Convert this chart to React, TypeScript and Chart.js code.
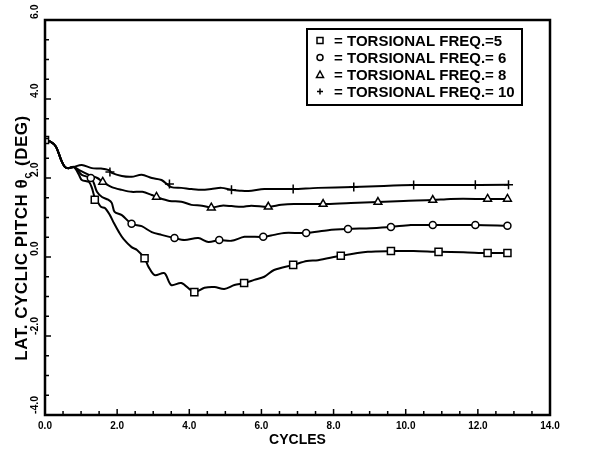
import React, { useEffect, useRef } from 'react';
import { Chart, registerables } from 'chart.js';

Chart.register(...registerables);

const FONT = '"Liberation Sans", Arial, Helvetica, sans-serif';

// Shared start of all four curves (cycles, deg)
const START_X = [0, 0.15, 0.3, 0.45, 0.55, 0.65, 0.8];
const START_Y = [2.96, 2.92, 2.8, 2.45, 2.28, 2.25, 2.28];

// Torsional freq = 5 (squares)
const F5_X = [0.94, 1.02, 1.22, 1.3, 1.38, 1.46, 1.55, 1.66, 1.8, 1.91, 2.05, 2.18, 2.4, 2.55, 2.76, 2.87, 3.04, 3.31, 3.5, 3.78, 4.14, 4.42, 4.7, 4.97, 5.25, 5.52, 5.8, 6.08, 6.35, 6.88, 7.26, 7.57, 8.2, 8.95, 9.59, 10.22, 10.91, 11.6, 12.27, 12.82];
const F5_Y = [2.08, 1.95, 1.9, 1.75, 1.5, 1.39, 1.27, 1.24, 1.06, 0.86, 0.63, 0.45, 0.25, 0.18, -0.03, -0.25, -0.46, -0.41, -0.71, -0.66, -0.89, -0.78, -0.76, -0.81, -0.71, -0.66, -0.58, -0.5, -0.33, -0.2, -0.1, -0.08, 0.03, 0.13, 0.15, 0.15, 0.13, 0.12, 0.1, 0.1];
const F5_MARK_X = [0, 1.38, 2.76, 4.14, 5.52, 6.88, 8.2, 9.59, 10.91, 12.27, 12.82];
const F5_MARK_Y = [2.96, 1.45, -0.03, -0.89, -0.66, -0.2, 0.03, 0.15, 0.13, 0.1, 0.1];

// Torsional freq = 6 (circles)
const F6_X = [0.9, 1.02, 1.27, 1.35, 1.44, 1.58, 1.75, 1.85, 1.93, 2.13, 2.4, 2.68, 2.96, 3.23, 3.59, 3.87, 4.25, 4.53, 4.83, 5.17, 5.53, 6.05, 6.35, 6.63, 7.24, 7.85, 8.4, 9.03, 9.59, 10.14, 10.75, 11.24, 11.93, 12.82];
const F6_Y = [2.2, 2.08, 2.0, 1.88, 1.65, 1.52, 1.45, 1.37, 1.14, 1.06, 0.84, 0.78, 0.63, 0.56, 0.48, 0.43, 0.48, 0.38, 0.43, 0.41, 0.51, 0.51, 0.56, 0.61, 0.61, 0.68, 0.71, 0.73, 0.76, 0.81, 0.81, 0.81, 0.81, 0.79];
const F6_MARK_X = [1.27, 2.4, 3.59, 4.83, 6.05, 7.24, 8.4, 9.59, 10.75, 11.93, 12.82];
const F6_MARK_Y = [2.0, 0.84, 0.48, 0.43, 0.51, 0.61, 0.71, 0.76, 0.81, 0.81, 0.79];

// Torsional freq = 8 (triangles)
const F8_X = [0.95, 1.22, 1.45, 1.6, 1.85, 2.13, 2.4, 2.7, 2.96, 3.09, 3.45, 3.78, 4.06, 4.35, 4.61, 4.9, 5.17, 5.45, 5.72, 6.19, 6.55, 6.9, 7.71, 8.48, 9.23, 9.94, 10.75, 11.24, 12.27, 12.82];
const F8_Y = [2.2, 2.08, 2.0, 1.9, 1.77, 1.7, 1.65, 1.65, 1.57, 1.52, 1.42, 1.4, 1.32, 1.3, 1.25, 1.3, 1.29, 1.27, 1.3, 1.27, 1.32, 1.34, 1.34, 1.37, 1.39, 1.42, 1.44, 1.47, 1.47, 1.47];
const F8_MARK_X = [1.6, 3.09, 4.61, 6.19, 7.71, 9.23, 10.75, 12.27, 12.82];
const F8_MARK_Y = [1.9, 1.52, 1.25, 1.27, 1.34, 1.39, 1.44, 1.47, 1.47];

// Torsional freq = 10 (plus)
const F10_X = [1.02, 1.3, 1.55, 1.77, 1.85, 2.13, 2.4, 2.68, 2.96, 3.23, 3.5, 3.78, 4.06, 4.35, 4.61, 4.89, 5.17, 5.4, 5.64, 6.08, 6.55, 6.88, 7.57, 8.54, 9.39, 10.22, 11.24, 12.85];
const F10_Y = [2.33, 2.25, 2.24, 2.2, 2.13, 2.05, 2.03, 2.08, 2.0, 1.95, 1.77, 1.75, 1.72, 1.7, 1.72, 1.75, 1.7, 1.68, 1.67, 1.72, 1.72, 1.72, 1.75, 1.77, 1.8, 1.82, 1.82, 1.83];
const F10_MARK_X = [1.8, 3.45, 5.17, 6.88, 8.56, 10.22, 11.93, 12.85];
const F10_MARK_Y = [2.15, 1.85, 1.7, 1.72, 1.77, 1.82, 1.83, 1.83];

const LEGEND_LABELS = ['TORSIONAL FREQ.=5', 'TORSIONAL FREQ.= 6', 'TORSIONAL FREQ.= 8', 'TORSIONAL FREQ.= 10'];
const MARKER_STYLES = ['rect', 'circle', 'triangle', 'cross'];

const X_TITLE = 'CYCLES';
const Y_TITLE_MAIN = 'LAT. CYCLIC PITCH \u03B8';
const Y_TITLE_SUB = 'c';
const Y_TITLE_END = ' (DEG)';

const tickLabel = (v: number) => (Math.abs(v % 2) < 1e-6 ? v.toFixed(1) : '');
const isMajor = (v: number) => Math.abs(v % 2) < 1e-6;

const pts = (xs: number[], ys: number[]) => xs.map((x, i) => ({ x, y: ys[i] }));

function drawMarker(ctx: CanvasRenderingContext2D, style: string, x: number, y: number, r: number) {
  ctx.beginPath();
  if (style === 'rect') {
    ctx.rect(x - r, y - r, 2 * r, 2 * r);
  } else if (style === 'circle') {
    ctx.arc(x, y, r, 0, Math.PI * 2);
  } else if (style === 'triangle') {
    ctx.moveTo(x, y - r - 0.5);
    ctx.lineTo(x + r + 0.5, y + r);
    ctx.lineTo(x - r - 0.5, y + r);
    ctx.closePath();
  } else {
    ctx.moveTo(x - r, y);
    ctx.lineTo(x + r, y);
    ctx.moveTo(x, y - r);
    ctx.lineTo(x, y + r);
  }
  ctx.stroke();
}

const decorPlugin = {
  id: 'decor',
  afterDraw(chart: any) {
    const { ctx, chartArea: a, scales } = chart;
    const xs = scales.x;
    const ys = scales.y;
    ctx.save();
    ctx.strokeStyle = '#000';
    ctx.fillStyle = '#000';

    // frame
    ctx.lineWidth = 2.5;
    ctx.strokeRect(a.left, a.top, a.right - a.left, a.bottom - a.top);

    // inward ticks
    ctx.lineWidth = 1.5;
    xs.ticks.forEach((t: any) => {
      const px = xs.getPixelForValue(t.value);
      ctx.beginPath();
      ctx.moveTo(px, a.bottom);
      ctx.lineTo(px, a.bottom - (isMajor(t.value) ? 6 : 4));
      ctx.stroke();
    });
    ys.ticks.forEach((t: any) => {
      const py = ys.getPixelForValue(t.value);
      ctx.beginPath();
      ctx.moveTo(a.left, py);
      ctx.lineTo(a.left + (isMajor(t.value) ? 6 : 4), py);
      ctx.stroke();
    });

    // rotated y tick labels
    ctx.font = `bold 10.5px ${FONT}`;
    ys.ticks.forEach((t: any) => {
      const lbl = tickLabel(t.value);
      if (!lbl) return;
      const py = ys.getPixelForValue(t.value);
      ctx.save();
      ctx.translate(a.left - 7, py - 1);
      ctx.rotate(-Math.PI / 2);
      ctx.textAlign = 'left';
      ctx.textBaseline = 'alphabetic';
      ctx.fillText(lbl, 0, 0);
      ctx.restore();
    });

    // y title with subscript
    const bigFont = `bold 17px ${FONT}`;
    const subFont = `bold 11px ${FONT}`;
    (ctx as any).letterSpacing = '0.5px';
    ctx.font = bigFont;
    const w1 = ctx.measureText(Y_TITLE_MAIN).width;
    const w3 = ctx.measureText(Y_TITLE_END).width;
    ctx.font = subFont;
    const w2 = ctx.measureText(Y_TITLE_SUB).width + 1;
    const total = w1 + w2 + w3;
    ctx.save();
    ctx.translate(27, 238 + total / 2);
    ctx.rotate(-Math.PI / 2);
    ctx.textAlign = 'left';
    ctx.textBaseline = 'alphabetic';
    ctx.font = bigFont;
    ctx.fillText(Y_TITLE_MAIN, 0, 0);
    ctx.font = subFont;
    ctx.fillText(Y_TITLE_SUB, w1, 4);
    ctx.font = bigFont;
    ctx.fillText(Y_TITLE_END, w1 + w2, 0);
    ctx.restore();
    (ctx as any).letterSpacing = '0px';

    // legend
    const lx = 307, ly = 29, lw = 215, lh = 76;
    ctx.lineWidth = 2;
    ctx.fillStyle = '#fff';
    ctx.fillRect(lx, ly, lw, lh);
    ctx.strokeRect(lx, ly, lw, lh);
    ctx.fillStyle = '#000';
    ctx.font = `bold 15px ${FONT}`;
    ctx.textAlign = 'left';
    ctx.textBaseline = 'alphabetic';
    LEGEND_LABELS.forEach((lbl, i) => {
      const base = 46 + i * 17;
      ctx.lineWidth = 1.5;
      drawMarker(ctx, MARKER_STYLES[i], 320, base - 5.5, 3);
      ctx.fillText('=', 334, base);
      ctx.fillText(lbl, 347, base);
    });
    ctx.restore();
  },
};

const SERIES = [
  { x: F5_X, y: F5_Y, mx: F5_MARK_X, my: F5_MARK_Y, style: 'rect', r: 5 },
  { x: F6_X, y: F6_Y, mx: F6_MARK_X, my: F6_MARK_Y, style: 'circle', r: 3.5 },
  { x: F8_X, y: F8_Y, mx: F8_MARK_X, my: F8_MARK_Y, style: 'triangle', r: 4.5 },
  { x: F10_X, y: F10_Y, mx: F10_MARK_X, my: F10_MARK_Y, style: 'cross', r: 4.5 },
];

export default function App() {
  const ref = useRef<HTMLCanvasElement | null>(null);

  useEffect(() => {
    if (!ref.current) return;
    const datasets: any[] = [];
    SERIES.forEach((s, i) => {
      datasets.push({
        label: LEGEND_LABELS[i],
        data: pts(START_X.concat(s.x), START_Y.concat(s.y)),
        showLine: true,
        borderColor: '#000',
        borderWidth: 2,
        pointRadius: 0,
        tension: 0.3,
        fill: false,
        order: 1,
      });
      datasets.push({
        label: LEGEND_LABELS[i] + ' markers',
        data: pts(s.mx, s.my),
        showLine: false,
        pointStyle: s.style,
        pointRadius: s.r,
        pointBackgroundColor: '#fff',
        pointBorderColor: '#000',
        pointBorderWidth: 1.5,
        order: 0,
      });
    });

    const chart = new Chart(ref.current, {
      type: 'scatter',
      data: { datasets },
      options: {
        animation: false,
        responsive: false,
        devicePixelRatio: 1,
        layout: { padding: { top: 20, right: 44, left: 0, bottom: 0 } },
        plugins: { legend: { display: false }, tooltip: { enabled: false } },
        scales: {
          x: {
            type: 'linear',
            min: 0,
            max: 14,
            afterFit: (s: any) => { s.height = 40; },
            ticks: {
              stepSize: 0.5,
              autoSkip: false,
              maxRotation: 0,
              minRotation: 0,
              callback: (v: any) => tickLabel(Number(v)),
              font: { family: FONT, size: 10, weight: 'bold' },
              color: '#000',
              padding: 5,
            },
            grid: { display: false, drawTicks: false },
            border: { display: false },
            title: {
              display: true,
              text: X_TITLE,
              font: { family: FONT, size: 14, weight: 'bold' },
              color: '#000',
              padding: { top: 0, bottom: 6 },
            },
          },
          y: {
            type: 'linear',
            min: -4,
            max: 6,
            afterFit: (s: any) => { s.width = 45; },
            ticks: { display: false, stepSize: 0.5, callback: (v: any) => tickLabel(Number(v)) },
            grid: { display: false, drawTicks: false },
            border: { display: false },
          },
        },
      } as any,
      plugins: [decorPlugin],
    });
    return () => chart.destroy();
  }, []);

  return (
    <div style={{ position: 'absolute', left: 0, top: 0, width: 594, height: 455, background: '#fff' }}>
      <canvas ref={ref} width={594} height={455} />
    </div>
  );
}
